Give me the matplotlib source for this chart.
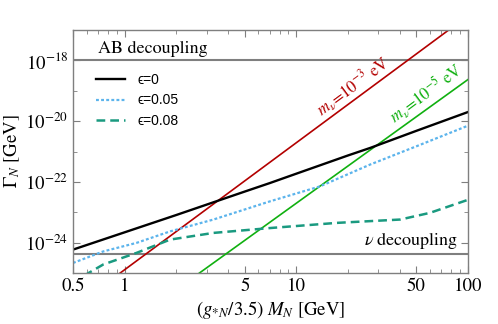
import numpy as np
import matplotlib
matplotlib.use("Agg")
import matplotlib.pyplot as plt

plt.rcParams['mathtext.fontset'] = 'stix'
plt.rcParams['font.family'] = ['STIXGeneral', 'DejaVu Serif']

# ---- data ----
x_eps0 = [0.5, 1, 2, 5, 7, 10, 20, 27, 50, 100]
y_eps0 = [10**-24.23, 10**-23.66, 10**-23.09, 10**-22.32, 10**-22.04,
          10**-21.73, 10**-21.13, 10**-20.88, 10**-20.32, 10**-19.70]

x_eps005 = [0.5, 0.75, 1.17, 1.84, 3.29, 7.03, 13.7, 26.9, 52.6, 100]
y_eps005 = [10**-24.67, 10**-24.29, 10**-24.01, 10**-23.63, 10**-23.24,
            10**-22.64, 10**-22.15, 10**-21.43, 10**-20.78, 10**-20.15]

x_eps008 = [0.5, 0.587, 0.75, 1.17, 1.84, 3.29, 7.03, 17.2, 40.3, 60, 100]
y_eps008 = [10**-25.35, 10**-25.07, 10**-24.72, 10**-24.34, 10**-23.90, 10**-23.68,
            10**-23.52, 10**-23.35, 10**-23.24, 10**-23.02, 10**-22.59]

x_mnu3 = [0.5, 100]
y_mnu3 = [10**-26.15, 10**-16.53]
x_mnu5 = [0.5, 100]
y_mnu5 = [10**-28.0, 10**-18.63]

ab_decoupling = 1e-18
nu_decoupling = 10**-24.36

legend_labels = ['\u03f5=0', '\u03f5=0.05', '\u03f5=0.08']
xtick_vals = [0.5, 1, 5, 10, 50, 100]
xtick_labels = ['0.5', '1', '5', '10', '50', '100']
ytick_vals = [1e-18, 1e-20, 1e-22, 1e-24]
ytick_labels = [r'$10^{-18}$', r'$10^{-20}$', r'$10^{-22}$', r'$10^{-24}$']

# ---- figure ----
fig = plt.figure(figsize=(4.98, 3.24), dpi=100)
ax = fig.add_axes([73/498, 1-273/324, (468-73)/498, (273-30)/324])
ax.set_xscale('log')
ax.set_yscale('log')
ax.set_xlim(0.5, 100)
ax.set_ylim(1e-25, 1e-17)

grey = '#7f7f7f'
ax.axhline(ab_decoupling, color=grey, lw=1.5)
ax.axhline(nu_decoupling, color=grey, lw=1.5)

ax.plot(x_mnu3, y_mnu3, color='#b30000', lw=1.2)
ax.plot(x_mnu5, y_mnu5, color='#10b010', lw=1.2)

l0, = ax.plot(x_eps0, y_eps0, color='black', lw=1.7)
l1, = ax.plot(x_eps005, y_eps005, color='#5cb4ec', lw=1.6, ls=(0, (1.3, 1.0)))
l2, = ax.plot(x_eps008, y_eps008, color='#1a9a80', lw=1.8, ls=(0, (3.5, 2.0)))

ax.text(0.70, 1.3e-18, 'AB decoupling', fontsize=13, ha='left', va='bottom')
ax.text(88, 5.4e-25, r'$\nu$ decoupling', fontsize=13, ha='right', va='bottom')

ax.text(21.5, 10**-18.85, r'$m_\nu$=10$^{-3}$ eV', color='#b30000', fontsize=12,
        rotation=36.5, ha='center', va='center', rotation_mode='anchor')
ax.text(57, 10**-19.1, r'$m_\nu$=10$^{-5}$ eV', color='#10b010', fontsize=12,
        rotation=36.5, ha='center', va='center', rotation_mode='anchor')

leg = ax.legend([l0, l1, l2], legend_labels, loc='upper left',
                bbox_to_anchor=(0.045, 0.845), frameon=False, handlelength=2.1,
                handletextpad=0.9, labelspacing=0.45, borderaxespad=0,
                prop={'family': ['Liberation Sans', 'DejaVu Sans'], 'size': 10})

ax.set_xticks(xtick_vals)
ax.set_xticklabels(xtick_labels)
ax.set_xticks([0.6, 0.7, 0.8, 0.9, 2, 3, 4, 6, 7, 8, 9, 20, 30, 40, 60, 70, 80, 90], minor=True)
ax.xaxis.set_minor_formatter(matplotlib.ticker.NullFormatter())
ax.set_yticks(ytick_vals)
ax.set_yticklabels(ytick_labels)
ax.set_yticks([1e-17, 1e-19, 1e-21, 1e-23, 1e-25], minor=True)
ax.yaxis.set_minor_formatter(matplotlib.ticker.NullFormatter())

ax.tick_params(which='both', direction='in', top=True, right=True, color=grey,
               labelsize=13.5, labelcolor='black')
ax.tick_params(which='major', length=5, width=0.8)
ax.tick_params(which='minor', length=3, width=0.6)
for s in ax.spines.values():
    s.set_color(grey)
    s.set_linewidth(1.0)

ax.set_xlabel(r'$(g_{*N}/3.5)\ M_N$ [GeV]', fontsize=13.5, labelpad=3)
ax.set_ylabel(r'$\Gamma_N$ [GeV]', fontsize=13.5, labelpad=2)

fig.savefig('out.png', dpi=100)
